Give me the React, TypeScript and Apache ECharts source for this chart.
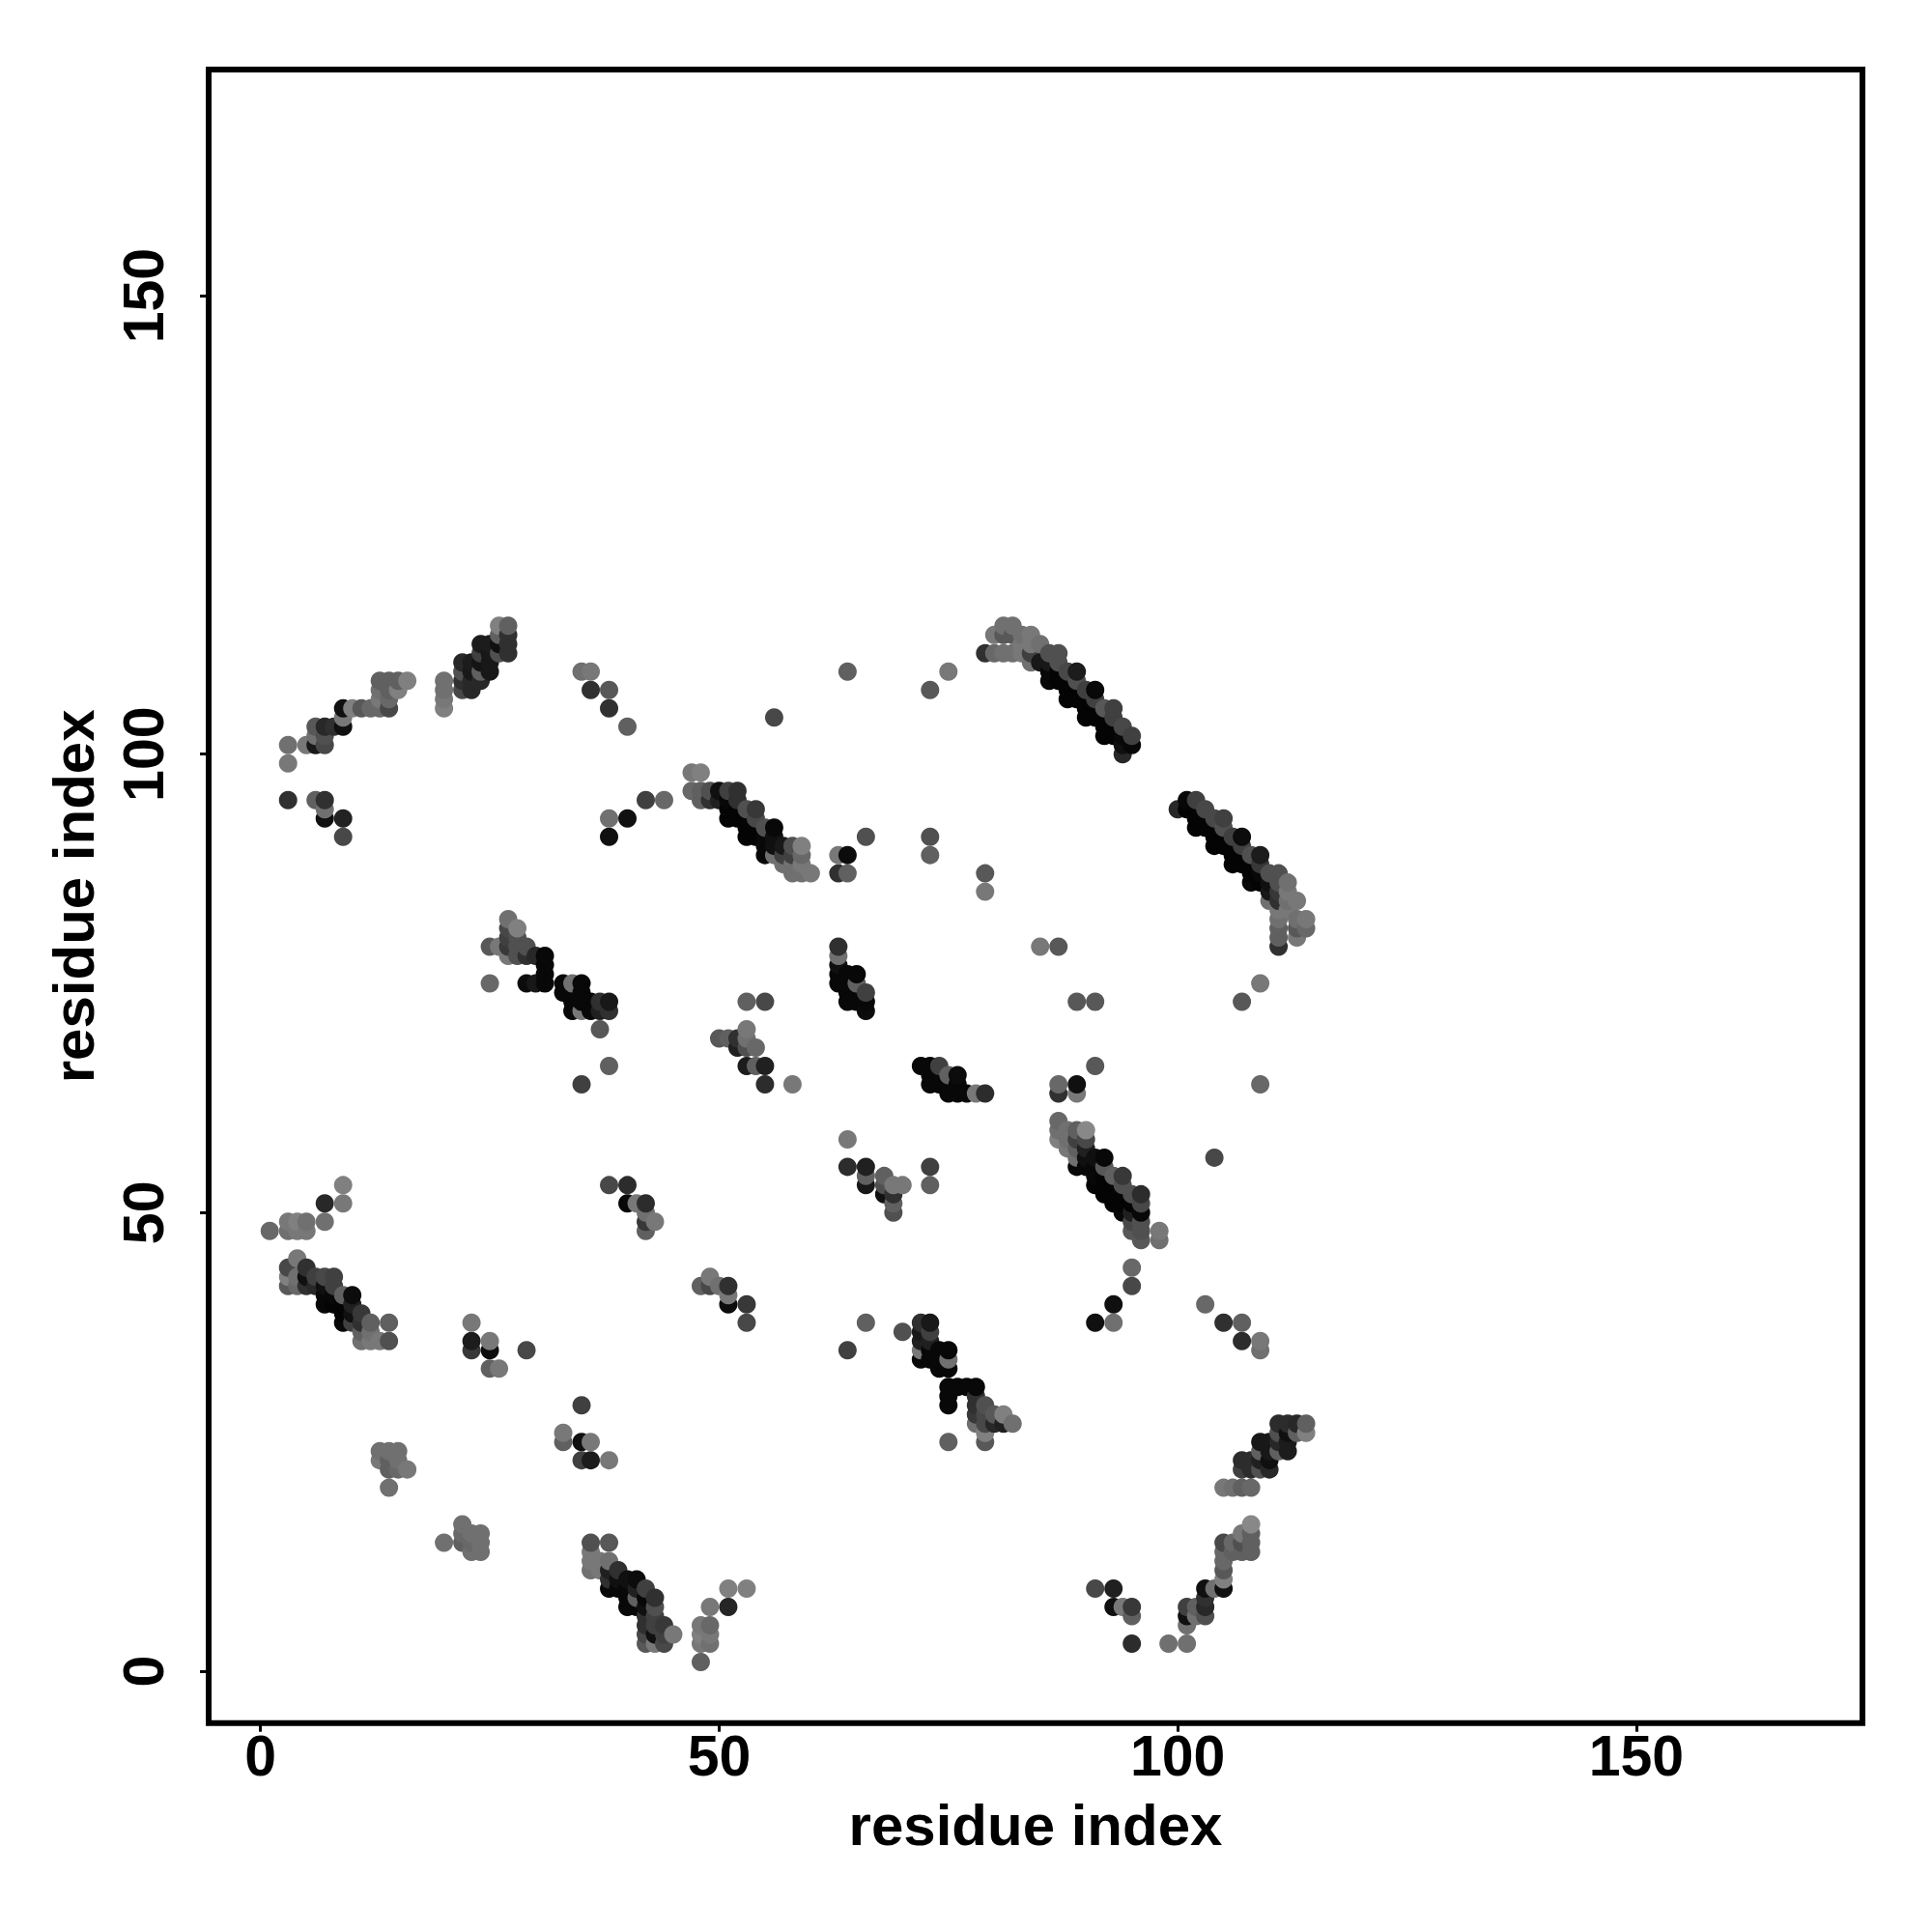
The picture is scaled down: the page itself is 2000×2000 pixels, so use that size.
import React, { useEffect, useRef } from "react";
import * as echarts from "echarts";

type P = [number, number, number];

const axisTicks = [0, 50, 100, 150];
const axisTitle = "residue index";

// [residue x, residue y, grey level]
const topLeftArc: P[] = [
  [3,101,0x70],[3,99,0x78],[5,101,0x78],[6,101,0x18],[7,101,0x48],[6,102,0x70],[7,102,0x50],[6,103,0x58],[7,103,0x28],[8,103,0x30],[9,103,0x10],[9,104,0x78],[9,105,0x10],
  [10,105,0x80],[11,105,0x58],[12,105,0x68],[13,105,0x68],[14,105,0x48],[13,106,0x78],[14,106,0x68],[13,107,0x70],[14,107,0x60],[15,107,0x80],[13,108,0x60],[14,108,0x60],[15,108,0x60],[16,108,0x80],
  [3,95,0x30],[6,95,0x60],[7,95,0x30],[7,94,0x70],[7,93,0x10],[9,93,0x22],[9,91,0x48],
];
const topStrand: P[] = [
  [20,108,0x70],[20,107,0x70],[20,106,0x78],[20,105,0x80],[22,110,0x28],[22,109,0x50],[22,108,0x30],[22,107,0x48],[23,110,0x1c],[23,109,0x18],[23,108,0x28],[23,107,0x28],
  [24,112,0x1c],[24,111,0x40],[24,110,0x14],[24,109,0x60],[24,108,0x28],[25,112,0x1c],[25,111,0x18],[25,110,0x18],[25,109,0x18],[26,114,0x80],[26,113,0x60],[26,112,0x10],[26,111,0x50],
  [27,114,0x60],[27,113,0x30],[27,112,0x30],[27,111,0x30],
];
const upperSingles: P[] = [
  [35,109,0x70],[36,109,0x78],[36,107,0x30],[38,107,0x58],[38,105,0x30],[38,93,0x70],[38,91,0x10],[40,103,0x60],[40,93,0x10],[42,95,0x40],[44,95,0x68],[56,104,0x48],[64,109,0x60],[73,107,0x58],[75,109,0x78],
  [63,89,0x78],[64,89,0x0c],[63,87,0x30],[64,87,0x60],[66,91,0x50],[73,91,0x50],[73,89,0x60],[79,87,0x58],[79,85,0x78],
];
const strandA: P[] = [
  [47,98,0x78],[48,98,0x80],[47,96,0x68],[48,96,0x60],[49,96,0x50],[50,96,0x10],[51,96,0x40],[52,96,0x30],[48,95,0x60],[49,95,0x30],[50,95,0x20],[51,95,0x08],[52,95,0x30],
  [51,93,4],[53,91,4],[55,89,8],[51,94,4],[52,93,4],[53,92,4],[54,91,4],[55,90,8],[56,89,0x70],[52,94,4],[53,93,4],[54,92,4],[55,91,8],[56,90,0x10],[57,89,0x40],
  [53,94,0x50],[54,93,0x48],[55,92,0x50],[56,91,0x10],[57,90,0x18],[58,89,0x40],[54,94,0x38],[56,92,0x08],[58,90,0x50],[59,90,0x80],[59,89,0x68],
  [57,88,0x70],[58,88,0x70],[59,88,0x78],[58,87,0x70],[59,87,0x70],[60,87,0x78],
];
const strandB: P[] = [
  [79,111,0x30],[80,111,0x68],[81,111,0x70],[82,111,0x70],[80,113,0x78],[81,114,0x70],[82,114,0x70],[81,113,0x58],[82,113,0x58],[83,113,0x70],[84,113,0x78],[83,112,0x78],[84,112,0x78],[85,112,0x70],[83,111,0x78],[84,111,0x40],[84,110,0x70],[85,110,0x18],[86,111,0x50],
  [86,108,8],[88,106,4],[90,104,4],[92,102,4],[94,100,0x28],
  [86,109,8],[87,108,4],[88,107,4],[89,106,4],[90,105,4],[91,104,4],[92,103,4],[93,102,4],[94,101,0x10],
  [86,110,0x18],[87,109,4],[88,108,4],[89,107,4],[90,106,4],[91,105,4],[92,104,4],[93,103,4],[94,102,8],[95,101,8],
  [87,110,0x50],[88,109,0x48],[89,108,0x50],[90,107,0x40],[91,106,0x40],[92,105,0x58],[93,104,0x40],[94,103,0x48],[95,102,0x40],
  [87,111,0x50],[89,109,0x1c],[91,107,0x08],[93,105,0x40],
];
const strandC: P[] = [
  [100,94,0x28],[102,92,4],[104,90,4],[106,88,4],[108,86,8],
  [101,94,4],[102,93,4],[103,92,4],[104,91,4],[105,90,4],[106,89,4],[107,88,4],[108,87,4],[109,86,4],[110,85,0x18],
  [101,95,8],[102,94,4],[103,93,4],[104,92,4],[105,91,4],[106,90,4],[107,89,4],[108,88,4],[109,87,8],[110,86,0x10],[111,85,0x38],
  [102,95,0x40],[103,94,0x48],[104,93,0x48],[105,92,0x50],[106,91,0x40],[107,90,0x40],[108,89,0x50],[109,88,0x38],[110,87,0x50],[111,86,0x50],
  [105,93,0x40],[107,91,0x0c],[109,89,0x1c],[111,87,0x50],[112,86,0x70],[112,85,0x78],[113,84,0x78],[112,84,0x70],[110,84,0x70],[111,84,0x30],[111,83,0x78],[112,83,0x78],
  [114,82,0x78],[114,81,0x68],[113,82,0x70],[113,81,0x58],[113,80,0x78],[111,82,0x70],[111,81,0x60],[111,80,0x60],[111,79,0x30],
];
const midSingles: P[] = [
  [85,79,0x78],[87,79,0x58],[109,75,0x78],[89,73,0x58],[91,73,0x58],[107,73,0x58],[91,66,0x58],[87,64,0x68],[89,64,0x10],[87,63,0x30],[89,63,0x78],[109,64,0x68],[104,56,0x48],
  [95,44,0x68],[95,42,0x48],[93,40,0x10],[91,38,0x10],[93,38,0x70],[103,40,0x68],[105,38,0x30],[107,38,0x60],[107,36,0x2c],[109,36,0x78],[109,35,0x70],
];
const strandD: P[] = [
  [25,79,0x58],[26,79,0x78],[27,82,0x70],[27,81,0x48],[27,80,0x40],[27,79,0x38],[27,78,0x78],[28,81,0x80],[28,80,0x50],[28,79,0x50],[28,78,0x50],[29,79,0x50],[29,78,0x30],[30,78,0x28],
  [31,78,8],[31,77,8],[31,76,8],[31,75,8],[29,75,0x0c],[30,75,0x18],[25,75,0x68],[33,75,8],[34,75,0x70],[35,75,8],[33,74,8],[34,74,8],[35,74,8],[34,73,8],[35,73,8],[36,73,8],[34,72,8],[35,72,0x78],[36,72,8],[37,73,0x30],[37,72,0x20],[38,73,0x18],[38,72,0x30],
  [37,70,0x58],[38,66,0x60],[35,64,0x40],[38,53,0x48],
];
const centerClusters: P[] = [
  [53,73,0x60],[55,73,0x48],[53,70,0x78],[50,69,0x58],[51,69,0x60],[52,69,0x30],[53,69,0x70],[52,68,0x20],[53,68,0x50],[54,68,0x68],[53,66,0x1c],[54,66,0x60],[55,66,0x20],[55,64,0x2c],[58,64,0x78],
  [64,58,0x78],[64,55,0x2c],[66,55,0x20],[66,54,0x60],[66,53,0x18],[68,54,0x60],[68,53,0x50],[69,53,0x78],[70,53,0x78],[68,52,0x10],[69,52,0x30],[69,51,0x60],[69,50,0x50],[73,55,0x40],[73,53,0x60],
  [40,53,0x2c],[40,51,0x08],[41,51,0x78],[42,51,0x2c],[42,50,0x70],[43,49,0x78],[42,49,0x38],[42,48,0x60],
  [48,42,0x60],[49,43,0x78],[49,42,0x48],[50,42,0x70],[51,42,0x30],[51,41,0x78],[51,40,0x0c],[53,40,0x38],[53,38,0x48],
  [63,79,0x30],[63,78,0x70],[63,77,0x10],[63,76,8],[63,75,8],[64,76,8],[65,76,8],[64,75,8],[65,75,0x60],[64,74,8],[65,74,8],[66,74,0x40],[64,73,8],[65,73,8],[66,73,8],[66,72,0x0c],
  [72,66,8],[73,66,8],[74,66,0x40],[73,65,8],[75,65,0x60],[76,65,0x0c],[73,64,8],[74,64,8],[75,64,8],[76,64,8],[75,63,8],[76,63,8],[77,63,8],[78,63,0x78],[79,63,0x2c],
];
const strandH: P[] = [
  [87,60,0x68],[87,59,0x70],[87,58,0x80],[88,59,0x70],[88,58,0x70],[88,57,0x78],[89,59,0x60],[89,58,0x40],[89,57,0x60],[89,56,0x70],[89,55,8],[90,59,0x88],[90,58,0x48],[90,57,0x20],[90,56,0x10],[90,55,8],
  [91,56,0x10],[91,55,8],[91,54,8],[91,53,4],[92,56,8],[92,55,0x58],[92,54,4],[92,53,4],[92,52,4],[93,54,0x60],[93,53,4],[93,52,4],[93,51,4],[94,54,0x38],[94,53,0x50],[94,52,4],[94,51,4],[94,50,8],
  [95,52,0x50],[95,51,4],[95,50,0x20],[95,49,0x48],[95,48,0x58],[96,52,0x2c],[96,51,0x48],[96,50,8],[96,49,0x50],[96,48,0x50],[96,47,0x58],[98,48,0x78],[98,47,0x70],
];
const lowerLeft: P[] = [
  [9,53,0x80],[9,51,0x78],[7,51,0x28],[7,49,0x70],[1,48,0x68],[3,49,0x78],[4,49,0x80],[5,49,0x70],[3,48,0x70],[4,48,0x78],[5,48,0x78],
  [4,45,0x78],[3,44,0x48],[5,44,0x30],[3,43,0x80],[4,43,0x70],[5,43,0x10],[6,43,0x40],[7,43,0x48],[8,43,0x40],[3,42,0x58],[4,42,0x68],[5,42,0x30],[6,42,0x28],[7,42,0x10],[8,42,0x40],
  [7,41,8],[8,41,8],[9,41,0x60],[10,41,0x0c],[7,40,8],[8,40,4],[9,40,4],[10,40,0x20],[9,39,4],[10,39,0x10],[11,39,0x38],[9,38,8],[10,38,0x40],[11,38,0x30],[12,38,0x60],[14,38,0x60],
  [11,37,0x60],[12,37,0x70],[11,36,0x70],[12,36,0x78],[13,36,0x78],[14,36,0x50],
  [23,38,0x78],[23,36,0x1c],[25,36,0x78],[23,35,0x38],[25,35,0x0c],[29,35,0x48],[25,33,0x60],[26,33,0x78],[35,29,0x40],[33,26,0x78],[33,25,0x60],[35,25,0x10],[36,25,0x78],[35,23,0x40],[36,23,0x1c],[38,23,0x78],
  [13,24,0x70],[14,24,0x70],[15,24,0x70],[13,23,0x78],[14,23,0x60],[15,23,0x70],[14,22,0x60],[15,22,0x68],[16,22,0x78],[14,20,0x70],
  [22,16,0x70],[22,15,0x68],[22,14,0x60],[23,15,0x70],[24,15,0x70],[23,14,0x68],[24,14,0x70],[23,13,0x70],[24,13,0x70],[20,14,0x70],
];
const strandF: P[] = [
  [36,14,0x50],[38,14,0x58],[36,13,0x78],[36,12,0x78],[36,11,0x70],[37,12,0x78],[37,11,0x78],[38,12,0x70],[38,11,0x20],[38,10,0x30],[38,9,8],[39,11,0x30],[39,10,0x10],[39,9,8],
  [40,10,0x10],[40,9,8],[40,8,8],[40,7,8],[41,10,0x0c],[41,9,0x20],[41,8,0x60],[41,7,8],[42,9,0x40],[42,8,8],[42,7,0x10],[42,6,0x30],[42,5,0x30],[42,4,0x48],[42,3,0x58],
  [43,8,0x30],[43,7,0x50],[43,6,0x40],[43,5,0x40],[43,4,0x10],[43,3,0x78],[44,5,0x38],[44,4,0x40],[44,3,0x48],[45,4,0x78],
  [48,5,0x78],[48,4,0x80],[48,3,0x78],[48,1,0x60],[49,5,0x68],[49,4,0x78],[49,3,0x70],[49,7,0x78],[51,9,0x80],[51,7,0x25],[53,9,0x80],
  [66,38,0x60],[64,35,0x40],[70,37,0x50],
];
const strandG: P[] = [
  [72,38,0x30],[73,38,0x18],[72,37,0x18],[73,37,0x40],[72,36,0x20],[73,36,0x20],[72,35,0x78],[73,35,8],[74,35,8],[75,35,8],[72,34,8],[73,34,8],[74,34,8],[75,34,0x70],[74,33,8],[75,33,8],
  [75,31,8],[76,31,8],[77,31,8],[78,31,8],[75,30,8],[75,29,8],[78,30,0x30],[78,29,0x30],[79,29,0x50],[78,28,0x38],[79,28,0x48],[80,28,0x58],[81,28,0x80],[78,27,0x70],[79,27,0x48],[80,27,0x28],[81,27,0x20],[82,27,0x70],[79,26,0x80],[79,25,0x58],[75,25,0x60],
];
const lowerRight: P[] = [
  [91,9,0x48],[93,9,0x20],[93,7,0x10],[94,7,0x78],[95,7,0x38],[95,6,0x60],[95,3,0x2c],[99,3,0x70],[101,3,0x70],[101,5,0x70],[101,6,0x10],[101,7,0x40],[102,7,0x60],[102,6,0x70],[103,6,0x50],[103,7,0x28],[103,8,0x30],[103,9,0x10],[104,9,0x70],
  [105,9,0x10],[105,10,0x80],[105,11,0x58],[105,12,0x68],[105,13,0x68],[105,14,0x48],[106,14,0x68],[106,13,0x60],[107,13,0x60],[108,13,0x60],[107,14,0x50],[108,14,0x60],[107,15,0x78],[108,15,0x60],[108,16,0x88],
  [105,20,0x78],[106,20,0x70],[107,20,0x60],[108,20,0x68],[107,23,0x2c],[108,23,0x2c],[107,22,0x40],[108,22,0x2c],[109,22,0x50],[110,22,0x28],[109,25,0x18],[110,25,0x18],[109,24,0x60],[110,24,0x18],[109,23,0x20],[110,23,0x10],
  [111,25,0x28],[111,24,0x60],[112,25,0x1c],[112,24,0x1c],[111,27,0x2c],[112,27,0x2c],[113,27,0x28],[114,27,0x60],[114,26,0x80],[113,26,0x60],[112,26,0x10],[111,26,0x50],
];

const clusters = [topLeftArc, topStrand, upperSingles, strandA, strandB, strandC, midSingles, strandD, centerClusters, strandH, lowerLeft, strandF, strandG, lowerRight];

const FONT = "Liberation Sans";

export default function App() {
  const ref = useRef<HTMLDivElement>(null);
  useEffect(() => {
    const chart = echarts.init(ref.current!, undefined, { renderer: "svg" });
    const points = clusters.flat().slice().sort((a, b) => a[0] - b[0] || a[1] - b[1]);
    const axisBase = {
      type: "value",
      min: -5.66,
      max: 174.66,
      splitLine: { show: false },
      axisLine: { show: false, onZero: false },
      axisTick: { show: true, length: 9, customValues: axisTicks, lineStyle: { color: "#000", width: 3 } },
      name: axisTitle,
      nameLocation: "middle",
      nameTextStyle: { fontFamily: FONT, fontWeight: "bold", fontSize: 60, color: "#000" },
    };
    chart.setOption({
      animation: false,
      backgroundColor: "#fff",
      grid: { show: true, left: 216, right: 72, top: 72, bottom: 216.3, borderColor: "#000", borderWidth: 6, backgroundColor: "transparent" },
      xAxis: {
        ...axisBase,
        nameGap: 76,
        axisLabel: { customValues: axisTicks, margin: 5, fontFamily: FONT, fontWeight: "bold", fontSize: 59, color: "#000", formatter: (v: number) => String(v) },
      },
      yAxis: {
        ...axisBase,
        nameGap: 110,
        axisLabel: { customValues: axisTicks, rotate: 90, margin: 38, fontFamily: FONT, fontWeight: "bold", fontSize: 59, color: "#000", formatter: (v: number) => String(v) },
      },
      series: [
        {
          type: "scatter",
          symbol: "circle",
          symbolSize: 19,
          data: points.map(([x, y, g]) => ({
            value: [x, y],
            itemStyle: { color: `rgb(${g},${g},${g})`, opacity: 1 },
          })),
          silent: true,
        },
      ],
    });
    return () => chart.dispose();
  }, []);
  return <div ref={ref} style={{ position: "absolute", left: 0, top: 0, width: 2000, height: 2000 }} />;
}
